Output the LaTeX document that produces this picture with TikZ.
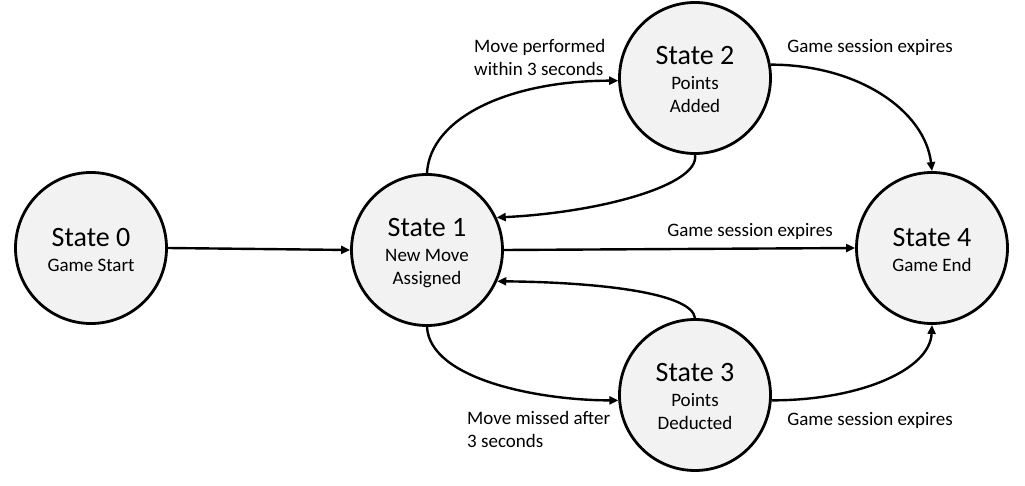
\documentclass[tikz,border=0pt]{standalone}
\usepackage{fontspec}
\setmainfont{Carlito}
\usetikzlibrary{arrows.meta}
\definecolor{statefill}{HTML}{F2F2F2}
\tikzset{
  state/.style={circle, draw=black, fill=statefill, line width=2.8pt, minimum size=151pt, inner sep=0pt, font=\fontsize{19}{23}\selectfont},
  arr/.style={line width=2.4pt, -{Triangle[length=9pt,width=8pt]}},
  lbl/.style={font=\fontsize{19}{23}\selectfont, inner sep=0pt},
}
\newcommand{\ttl}[1]{{\fontsize{28}{28}\selectfont #1}}
\newcommand{\stxt}[2]{\raisebox{-5pt}[\height][\depth]{\begin{tabular}{@{}c@{}}\ttl{#1}\\[2pt] #2\end{tabular}}}
\begin{document}
\begin{tikzpicture}[x=1pt,y=-1pt]
\useasboundingbox (0,0) rectangle (1025,486);
\node[state] (S0) at (91,248) {\stxt{State 0}{Game Start}};
\node[state] (S1) at (427,250) {\stxt{State 1}{New Move\\Assigned}};
\node[state] (S2) at (695,78) {\stxt{State 2}{Points\\Added}};
\node[state] (S3) at (695,395) {\stxt{State 3}{Points\\Deducted}};
\node[state] (S4) at (932,248) {\stxt{State 4}{Game End}};

\draw[arr] (S0.east) -- (S1.west);
\draw[arr] (S1.east) -- (S4.west);
\draw[arr] (S1.north) .. controls +(3,-55) and +(-110,0) .. (S2.182);
\draw[arr] (S2.south) .. controls +(5,30) and +(104,-5) .. (S1.25);
\draw[arr] (S3.north) .. controls +(-3,-25) and +(103,1) .. (S1.-24);
\draw[arr] (S1.south) .. controls +(3,53) and +(-78,0) .. (S3.184);
\draw[arr] (S2.10) .. controls +(88,0) and +(-7,-60) .. (S4.north);
\draw[arr] (S3.-4) .. controls +(88,0) and +(-2,45) .. (S4.south);

\node[lbl, anchor=west, align=left] (L1) at (474,57) {Move performed\\within 3 seconds};
\node[lbl] (L2) at (870,47) {Game session expires};
\node[lbl] (L3) at (750,231) {Game session expires};
\node[lbl, anchor=west, align=left] (L4) at (467,429) {Move missed after\\3 seconds};
\node[lbl] (L5) at (870,420) {Game session expires};
\end{tikzpicture}
\end{document}
